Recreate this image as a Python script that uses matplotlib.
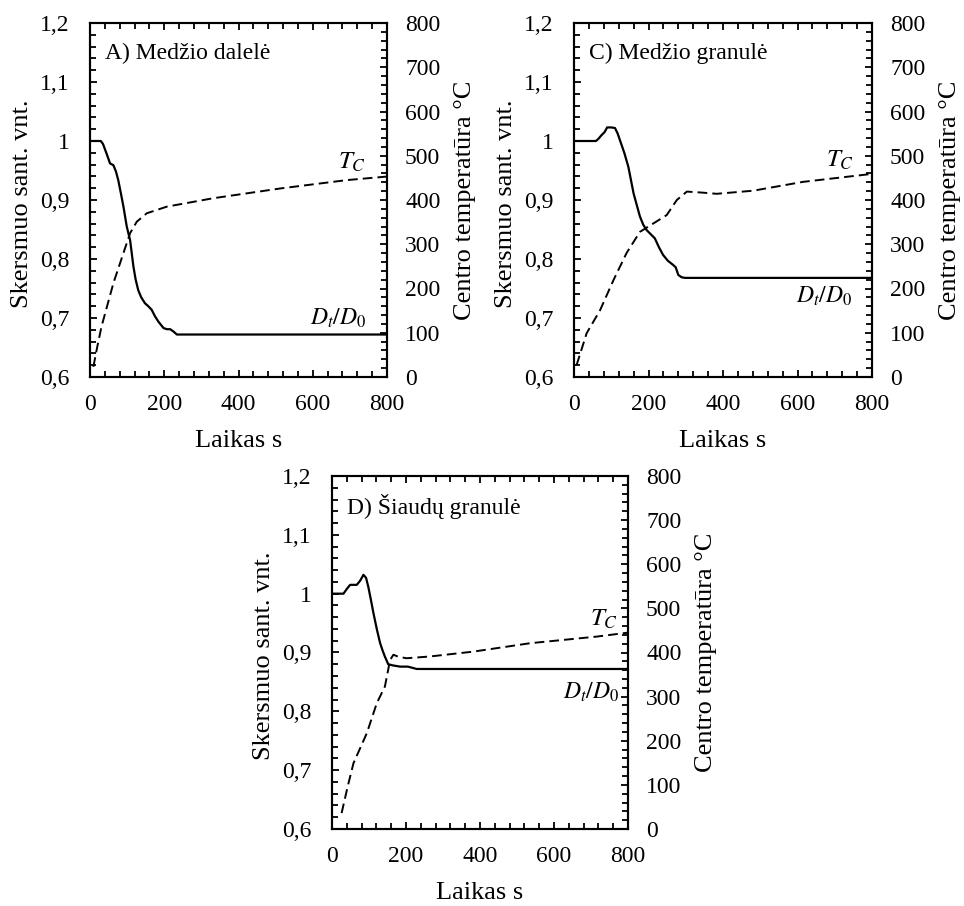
import matplotlib
matplotlib.use("Agg")
import matplotlib.pyplot as plt
from matplotlib.ticker import MultipleLocator, FuncFormatter

plt.rcParams['font.family'] = ['Liberation Serif', 'DejaVu Serif']
plt.rcParams['mathtext.fontset'] = 'stix'

# ---------------- data ----------------
# Panel A: Medžio dalelė
a_t_d = [0, 29, 35, 45, 54, 63, 70, 76, 83, 90, 99, 108, 117, 123, 130, 138, 148, 157, 166, 175, 184, 198, 207, 216, 225, 234, 800]
a_d   = [1.0, 1.0, 0.995, 0.978, 0.962, 0.959, 0.948, 0.934, 0.912, 0.889, 0.855, 0.832, 0.787, 0.765, 0.747, 0.735,
         0.725, 0.720, 0.714, 0.703, 0.694, 0.683, 0.681, 0.681, 0.677, 0.672, 0.672]
a_t_T = [9, 20, 31, 63, 90, 108, 126, 153, 207, 332, 512, 692, 800]
a_T   = [23, 70, 114, 212, 280, 325, 351, 370, 385, 404, 426, 445, 453]

# Panel C: Medžio granulė
c_t_d = [0, 59, 66, 74, 82, 89, 100, 110, 117, 123, 135, 146, 160, 177, 186, 195, 206, 217, 228, 239, 252, 266, 273, 280, 289, 298, 800]
c_d   = [1.0, 1.0, 1.004, 1.010, 1.015, 1.023, 1.023, 1.022, 1.013, 1.002, 0.980, 0.956, 0.911, 0.872, 0.858, 0.849,
         0.842, 0.835, 0.820, 0.807, 0.797, 0.790, 0.786, 0.773, 0.769, 0.768, 0.768]
c_t_T = [7, 34, 70, 106, 141, 177, 213, 249, 276, 303, 340, 383, 481, 615, 800]
c_T   = [27, 99, 151, 219, 280, 328, 347, 366, 400, 419, 417, 414, 421, 441, 459]

# Panel D: Šiaudų granulė
d_t_d = [0, 31, 40, 49, 58, 67, 76, 85, 92, 98, 105, 112, 121, 130, 137, 143, 152, 165, 184, 205, 229, 800]
d_d   = [1.0, 1.0, 1.008, 1.015, 1.015, 1.015, 1.022, 1.032, 1.027, 1.012, 0.990, 0.967, 0.940, 0.916, 0.903, 0.893,
         0.880, 0.878, 0.876, 0.876, 0.872, 0.872]
d_t_T = [26, 42, 58, 94, 121, 143, 157, 166, 180, 202, 265, 382, 535, 715, 800]
d_T   = [36, 95, 149, 217, 285, 323, 383, 395, 390, 387, 391, 402, 421, 436, 445]

titles = ["A) Medžio dalelė", "C) Medžio granulė", "D) Šiaudų granulė"]
xlabel = "Laikas s"
ylabel_left = "Skersmuo sant. vnt."
ylabel_right = "Centro temperatūra °C"

panels = [
    (a_t_d, a_d, a_t_T, a_T, titles[0], [90/964, 1-377/906, 297/964, 354/906], (668, 485), (593, 0.70)),
    (c_t_d, c_d, c_t_T, c_T, titles[1], [574/964, 1-377/906, 298/964, 354/906], (676, 490), (596, 0.736)),
    (d_t_d, d_d, d_t_T, d_T, titles[2], [332/964, 1-829/906, 296/964, 353/906], (697, 474), (624, 0.833)),
]

fs_tick = 17
fs_lab = 19
fig = plt.figure(figsize=(9.64, 9.06), dpi=100)

def comma(v, pos):
    s = f"{v:.1f}".replace('.', ',')
    if s.endswith(',0'):
        s = s[:-2]
    return s

for (td, dd, tT, TT, title, rect, tc_pos, dl_pos) in panels:
    ax = fig.add_axes(rect)
    ax2 = ax.twinx()
    ax.plot(td, dd, color='black', lw=1.6, solid_joinstyle='round')
    ax2.plot(tT, TT, color='black', lw=1.4, dashes=(5, 2.6))
    ax.set_xlim(0, 800)
    ax.set_ylim(0.6, 1.2)
    ax2.set_ylim(0, 800)
    ax.xaxis.set_major_locator(MultipleLocator(200))
    ax.xaxis.set_minor_locator(MultipleLocator(40))
    ax.yaxis.set_major_locator(MultipleLocator(0.1))
    ax.yaxis.set_minor_locator(MultipleLocator(0.02))
    ax.yaxis.set_major_formatter(FuncFormatter(comma))
    ax2.yaxis.set_major_locator(MultipleLocator(100))
    ax2.yaxis.set_minor_locator(MultipleLocator(20))
    ax.tick_params(which='both', direction='in', top=True, bottom=True, left=True, right=False,
                   labelsize=fs_tick, width=1.3, color='black')
    ax.tick_params(axis='y', pad=14.5)
    ax.tick_params(axis='x', pad=12)
    ax.tick_params(which='major', length=5)
    ax.tick_params(which='minor', length=4.5)
    ax2.tick_params(which='both', direction='in', right=True, labelsize=fs_tick, pad=13, width=1.3)
    ax2.tick_params(which='major', length=5)
    ax2.tick_params(which='minor', length=4.5)
    for a in (ax, ax2):
        for sp in a.spines.values():
            sp.set_linewidth(1.5)
            sp.set_color('black')
    ax.text(0.5, -0.198, xlabel, transform=ax.transAxes, fontsize=fs_lab, ha='center', va='baseline')
    ax.text(-0.229, 0.49, ylabel_left, transform=ax.transAxes, fontsize=fs_lab, ha='center', va='center', rotation=90)
    ax.text(1.263, 0.5, ylabel_right, transform=ax.transAxes, fontsize=fs_lab, ha='center', va='center', rotation=90)
    ax.text(0.052, 0.915, title, transform=ax.transAxes, fontsize=17, va='center', ha='left')
    ax2.text(tc_pos[0], tc_pos[1], r'$T_C$', fontsize=18, ha='left', va='center')
    ax.text(dl_pos[0], dl_pos[1], r'$D_t/D_0$', fontsize=17, ha='left', va='center')

fig.savefig("out.png", dpi=100)
